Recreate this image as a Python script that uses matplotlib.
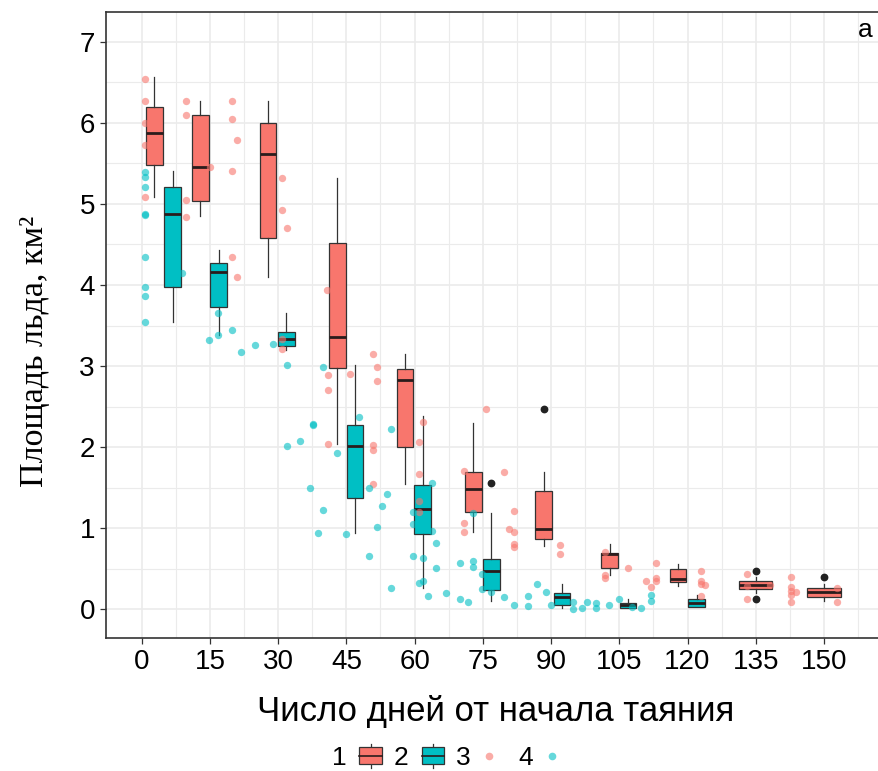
import matplotlib
matplotlib.use("Agg")
import matplotlib.pyplot as plt
from matplotlib.lines import Line2D
from matplotlib.patches import Rectangle, Patch
from matplotlib.legend_handler import HandlerBase

# --- data ---
ticks_days = [0, 15, 30, 45, 60, 75, 90, 105, 120, 135, 150]

# series 1 (red boxes): position, whislo, q1, med, q3, whishi
red_pos = [2.8, 12.9, 27.8, 43.0, 57.9, 72.9, 88.4, 102.9, 117.9, 135.0, 150.0]
red_lo = [5.09, 4.85, 4.10, 2.04, 1.55, 0.96, 0.78, 0.42, 0.29, 0.20, 0.105]
red_q1 = [5.48, 5.04, 4.585, 2.975, 2.005, 1.20, 0.87, 0.51, 0.34, 0.25, 0.155]
red_med = [5.88, 5.46, 5.62, 3.355, 2.83, 1.49, 0.99, 0.68, 0.38, 0.30, 0.215]
red_q3 = [6.20, 6.09, 6.00, 4.52, 2.96, 1.69, 1.455, 0.70, 0.495, 0.35, 0.265]
red_hi = [6.56, 6.27, 6.27, 5.32, 3.15, 2.30, 1.69, 0.81, 0.565, 0.40, 0.32]
red_out = [[], [], [], [], [], [], [2.47], [], [], [0.48, 0.125], [0.40]]

# series 2 (teal boxes)
teal_pos = [6.8, 16.9, 31.8, 46.9, 61.8, 76.9, 92.4, 106.9, 122.0]
teal_lo = [3.55, 3.38, 3.20, 0.94, 0.27, 0.105, 0.02, 0.02, 0.035]
teal_q1 = [3.97, 3.73, 3.25, 1.37, 0.93, 0.24, 0.053, 0.02, 0.035]
teal_med = [4.87, 4.16, 3.33, 2.02, 1.24, 0.48, 0.155, 0.05, 0.085]
teal_q3 = [5.21, 4.27, 3.42, 2.27, 1.535, 0.625, 0.205, 0.075, 0.13]
teal_hi = [5.40, 4.43, 3.66, 3.02, 2.38, 1.19, 0.32, 0.13, 0.175]
teal_out = [[], [], [], [], [], [1.555], [], [], []]

# series 3 (pink points)
pink_day = [0.8, 0.8, 0.8, 0.8, 0.8, 9.8, 9.8, 9.8, 9.8, 15.0,
            19.9, 19.9, 19.9, 19.9, 20.9, 20.9, 30.8, 30.8, 30.8, 30.8, 31.9,
            40.7, 40.9, 40.9, 40.9, 45.9, 50.8, 50.8, 50.8, 50.8, 51.8, 51.8,
            60.9, 60.9, 60.9, 60.9, 61.9, 70.9, 70.9, 70.9, 75.8, 79.7, 80.8,
            81.9, 81.9, 81.9, 81.9, 92.0, 92.0, 101.9, 101.9, 101.9, 107.0,
            110.9, 112.0, 113.0, 113.0, 113.0, 122.9, 122.9, 122.9, 122.9, 123.9,
            133.0, 133.0, 133.0, 138.1, 142.7, 142.7, 142.7, 142.7, 142.7, 143.8,
            152.9, 152.9]
pink_val = [6.54, 6.27, 6.00, 5.73, 5.08, 6.27, 6.09, 5.05, 4.84, 5.45,
            6.27, 6.05, 5.41, 4.34, 5.79, 4.10, 5.32, 4.92, 3.34, 3.21, 4.70,
            3.94, 2.885, 2.71, 2.035, 2.905, 3.15, 2.03, 1.97, 1.545, 2.99, 2.82,
            2.06, 1.67, 1.34, 1.205, 2.31, 1.71, 1.07, 0.95, 2.47, 1.69, 0.99,
            1.21, 0.95, 0.81, 0.77, 0.80, 0.69, 0.71, 0.42, 0.39, 0.51,
            0.35, 0.28, 0.57, 0.39, 0.35, 0.48, 0.35, 0.31, 0.17, 0.305,
            0.44, 0.29, 0.135, 0.30, 0.40, 0.28, 0.225, 0.175, 0.095, 0.215,
            0.26, 0.095]

# series 4 (cyan points)
cyan_day = [0.8, 0.8, 0.8, 0.8, 0.8, 0.8, 0.8, 0.8, 0.8, 8.8,
            16.8, 16.8, 14.9, 19.9, 21.8, 24.9, 28.9, 31.9, 31.9, 34.9,
            37.7, 37.7, 36.9, 39.9, 39.9, 38.8, 42.9, 44.9, 47.8, 50.0, 50.0,
            53.9, 52.9, 51.8, 54.8, 54.7, 63.9, 63.9, 59.7, 59.7, 59.7,
            64.8, 64.8, 61.9, 61.9, 60.9, 63.0, 67.0, 70.0, 70.0, 71.8,
            72.9, 72.8, 72.8, 74.9, 74.9, 76.8, 79.7, 81.9, 84.9, 84.9,
            86.8, 88.8, 89.9, 94.9, 94.9, 96.7, 97.8, 99.9, 99.9, 102.8,
            105.0, 107.9, 109.8, 111.9, 111.9]
cyan_val = [5.39, 5.33, 5.21, 4.88, 4.86, 4.35, 3.98, 3.87, 3.55, 4.15,
            3.66, 3.38, 3.32, 3.44, 3.18, 3.26, 3.27, 3.02, 2.01, 2.08,
            2.27, 2.29, 1.50, 2.99, 1.225, 0.94, 1.925, 0.93, 2.37, 1.50, 0.66,
            1.42, 1.27, 1.02, 2.22, 0.26, 1.565, 0.97, 1.205, 1.055, 0.66,
            0.82, 0.51, 0.64, 0.35, 0.33, 0.17, 0.205, 0.57, 0.13, 0.095,
            1.19, 0.60, 0.52, 0.44, 0.25, 0.21, 0.155, 0.06, 0.17, 0.04,
            0.31, 0.215, 0.06, 0.095, 0.01, 0.02, 0.095, 0.075, 0.02, 0.06,
            0.135, 0.03, 0.02, 0.175, 0.10]

red = "#F8766D"
teal = "#00BFC4"
edge = "#333333"

plt.rcParams["font.family"] = ["Liberation Sans", "DejaVu Sans"]


def make_stats(lo, q1, med, q3, hi, out):
    return [dict(whislo=a, q1=b, med=c, q3=d, whishi=e, fliers=f)
            for a, b, c, d, e, f in zip(lo, q1, med, q3, hi, out)]


fig = plt.figure(figsize=(8.79, 7.71), dpi=100)
ax = fig.add_axes([106 / 879, 1 - 637.7 / 771, 1 - 106 / 879, (637.7 - 12) / 771])

ax.set_xticks(ticks_days)
ax.set_xticks([t + 7.5 for t in ticks_days], minor=True)
ax.set_yticks(range(0, 8))
ax.set_yticks([i + 0.5 for i in range(0, 7)], minor=True)
ax.grid(which="major", color="#EBEBEB", lw=1.2, zorder=0)
ax.grid(which="minor", color="#EBEBEB", lw=0.8, zorder=0)
ax.set_axisbelow(True)


def draw_boxes(pos, stats, color, width):
    ax.bxp(stats, positions=pos, widths=width, patch_artist=True,
           showcaps=False, manage_ticks=False,
           boxprops=dict(facecolor=color, edgecolor=edge, lw=0.9),
           medianprops=dict(color="#2a1c1c", lw=2.0),
           whiskerprops=dict(color=edge, lw=0.9),
           flierprops=dict(marker="o", markerfacecolor="#222222",
                           markeredgecolor="#222222", markersize=4.6))


red_w = [3.67] * 9 + [7.35, 7.35]
draw_boxes(red_pos, make_stats(red_lo, red_q1, red_med, red_q3, red_hi, red_out), red, red_w)
draw_boxes(teal_pos, make_stats(teal_lo, teal_q1, teal_med, teal_q3, teal_hi, teal_out), teal, 3.67)

ax.scatter(pink_day, pink_val, s=28, color=red, alpha=0.6, lw=0, zorder=5)
ax.scatter(cyan_day, cyan_val, s=28, color=teal, alpha=0.6, lw=0, zorder=5)

ax.set_xlim(-7.85, 162.1)
ax.set_ylim(-0.348, 7.366)

for side in ["left", "bottom", "top"]:
    ax.spines[side].set_color(edge)
    ax.spines[side].set_linewidth(1.2)
ax.spines["right"].set_visible(False)

ax.tick_params(which="major", length=4, width=0.9, color=edge, labelsize=20,
               labelcolor="black", pad=4)
ax.tick_params(which="minor", length=0)
for lab in ax.get_xticklabels() + ax.get_yticklabels():
    lab.set_family(["Liberation Sans Narrow", "Liberation Sans"])

ax.text(0.992, 0.972, "a", transform=ax.transAxes, ha="right", va="center", fontsize=19)

ax.set_ylabel("Площадь льда, км²", family=["Liberation Serif", "DejaVu Serif"], fontsize=24.5)
ax.yaxis.set_label_coords(-0.072, 0.457)
fig.text(496 / 879, 1 - 711 / 771, "Число дней от начала таяния", ha="center",
         va="center", fontsize=25)


class BoxKey(HandlerBase):
    def create_artists(self, legend, orig, xd, yd, w, h, fs, trans):
        x0, y0 = -xd, -yd
        fc = orig.get_facecolor()
        art = [
            Line2D([x0 + w / 2] * 2, [y0 - 0.15 * h, y0 + 1.15 * h], color=edge, lw=0.9),
            Rectangle((x0, y0 + 0.05 * h), w, 0.9 * h, facecolor=fc, edgecolor=edge, lw=0.9),
            Line2D([x0, x0 + w], [y0 + 0.5 * h] * 2, color="#2a1c1c", lw=1.2),
        ]
        for a in art:
            a.set_transform(trans)
        return art


class DotKey(HandlerBase):
    def create_artists(self, legend, orig, xd, yd, w, h, fs, trans):
        x0, y0 = -xd, -yd
        dot = Line2D([x0 + 0.25 * w], [y0 + 0.5 * h], ls="none", marker="o",
                     markersize=5.5, color=orig.get_color(), alpha=0.6, mew=0)
        dot.set_transform(trans)
        return [dot]


handles = [
    Patch(facecolor=red),
    Patch(facecolor=teal),
    Line2D([], [], color=red),
    Line2D([], [], color=teal),
]
fig.legend(handles, ["1", "2", "3", "4"], loc="center", bbox_to_anchor=(450 / 879, 1 - 758 / 771),
           ncol=4, frameon=False, markerfirst=False, fontsize=19, handlelength=0.85,
           handleheight=0.72, handletextpad=0.5, columnspacing=0.45,
           handler_map={Patch: BoxKey(), Line2D: DotKey()})

fig.savefig("out.png", dpi=100)
